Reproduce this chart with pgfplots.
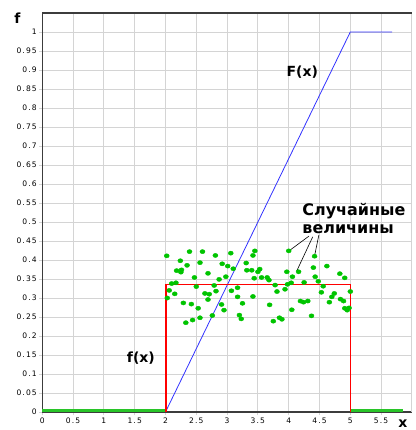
\documentclass[border=0pt]{standalone}
\usepackage{fontspec}
\setmainfont{DejaVu Sans}
\newfontfamily\tickfont{DejaVu Sans}[LetterSpace=15]
\usepackage{pgfplots}
\pgfplotsset{compat=1.18}
\definecolor{dotgreen}{RGB}{0,196,0}
\definecolor{linegreen}{RGB}{40,196,40}
\definecolor{gridgray}{RGB}{212,212,212}
\definecolor{fblue}{RGB}{50,50,255}
\definecolor{fred}{RGB}{255,0,0}
\definecolor{axgray}{RGB}{60,60,60}

\begin{document}
\begin{tikzpicture}
\useasboundingbox (-42.3bp,-18bp) rectangle (373.7bp,412bp);
\begin{axis}[
    at={(0,0)}, anchor=south west,
    scale only axis,
    width=369.6bp, height=399bp,
    xmin=0, xmax=6, ymin=0, ymax=1.05,
    axis x line*=bottom, axis y line*=left,
    axis line style={axgray, line width=1.1bp},
    xtick={0,0.5,...,5.5},
    ytick={0,0.05,...,1.001},
    extra x ticks={6}, extra x tick labels={},
    extra x tick style={major tick length=0pt},
    grid=major,
    grid style={gridgray, line width=0.9bp},
    tick align=outside,
    major tick length=3bp,
    tick style={gridgray, line width=0.9bp},
    /pgf/number format/fixed,
    /pgf/number format/precision=2,
    /pgf/number format/assume math mode=true,
    ticklabel style={font=\tickfont\fontsize{7.6}{8}\selectfont, text=black},
    xticklabel style={yshift=1bp},
    yticklabel style={xshift=1bp},
    clip=false,
]
% ordinate line on top
\draw[axgray, line width=1.1bp] (rel axis cs:0,1) -- (rel axis cs:1,1);

% green zero stretches
\addplot[linegreen, line width=3bp] coordinates {(0,0.003) (2,0.003)};
\addplot[linegreen, line width=3bp] coordinates {(5,0.003) (5.86,0.003)};

% F(x) distribution function
\addplot[draw=fblue, line width=0.8bp] coordinates {(2,0) (5,1) (5.68,1)};

% f(x) density
\addplot[draw=fred, line width=1.4bp] coordinates {(2.01,0) (2.01,0.335) (5,0.335) (5,0)};

% random values
\addplot[only marks, mark=*, color=dotgreen, mark size=2.1bp,
         mark options={xscale=1.2, draw=dotgreen, fill=dotgreen}] coordinates {
 (2.02,0.411) (2.39,0.422) (2.60,0.422) (2.81,0.412) (3.06,0.418) (3.42,0.412)
 (3.45,0.424) (2.24,0.398) (2.35,0.386) (2.56,0.393) (2.92,0.390) (3.01,0.384)
 (3.10,0.377) (3.31,0.392) (3.32,0.373) (3.40,0.373) (3.50,0.369) (2.18,0.372)
 (2.26,0.374) (2.25,0.368) (2.69,0.365) (2.47,0.354) (2.98,0.356) (2.87,0.349)
 (3.44,0.352) (2.10,0.338) (2.17,0.340) (2.50,0.330) (2.79,0.333) (3.17,0.327)
 (2.06,0.320) (2.15,0.311) (2.82,0.318) (3.07,0.319) (2.64,0.312) (2.71,0.310)
 (2.69,0.296) (2.03,0.300) (3.17,0.303) (3.42,0.304) (2.29,0.287) (2.42,0.284)
 (2.91,0.283) (3.25,0.286) (2.53,0.273) (2.95,0.268) (2.76,0.254) (3.20,0.255)
 (2.56,0.248) (2.44,0.242) (3.23,0.245) (2.33,0.235)
 (4.00,0.424) (4.42,0.410) (3.53,0.376) (3.97,0.369) (4.16,0.369) (4.40,0.380)
 (4.62,0.384) (4.83,0.364) (4.91,0.353) (3.56,0.354) (3.65,0.354) (3.68,0.347)
 (4.06,0.356) (4.43,0.356) (4.48,0.344) (4.25,0.341) (4.04,0.340) (3.98,0.336)
 (3.78,0.334) (4.56,0.331) (3.81,0.317) (3.94,0.323) (4.53,0.315) (5.00,0.317)
 (4.74,0.312) (4.70,0.303) (4.84,0.297) (4.89,0.292) (4.66,0.289) (4.19,0.292)
 (4.24,0.289) (4.31,0.292) (3.69,0.282) (4.91,0.273) (4.98,0.274) (4.95,0.268)
 (4.05,0.269) (4.37,0.253) (3.89,0.244) (3.85,0.248) (3.75,0.239)
};

% annotation
\draw[black, line width=0.6bp] (axis cs:4.33,0.463) -- (axis cs:4.005,0.424);
\draw[black, line width=0.6bp] (axis cs:4.49,0.466) -- (axis cs:4.42,0.411);
\draw[black, line width=0.6bp] (axis cs:4.39,0.461) -- (axis cs:4.13,0.371);
\node[anchor=base west, inner sep=0pt, font=\bfseries\fontsize{16}{17}\selectfont]
  at (axis cs:4.22,0.516) {Случайные};
\node[anchor=base west, inner sep=0pt, font=\bfseries\fontsize{16}{17}\selectfont]
  at (axis cs:4.22,0.471) {величины};

\node[font=\bfseries\fontsize{14}{16}\selectfont] at (axis cs:4.22,0.895) {F(x)};
\node[font=\bfseries\fontsize{14}{16}\selectfont] at (axis cs:1.60,0.143) {f(x)};

\node[font=\bfseries\fontsize{14}{16}\selectfont] at ([xshift=-25bp,yshift=-5bp]rel axis cs:0,1) {f};
\node[font=\bfseries\fontsize{14}{16}\selectfont] at ([xshift=-9bp,yshift=-12bp]rel axis cs:1,0) {x};
\end{axis}
\end{tikzpicture}
\end{document}
